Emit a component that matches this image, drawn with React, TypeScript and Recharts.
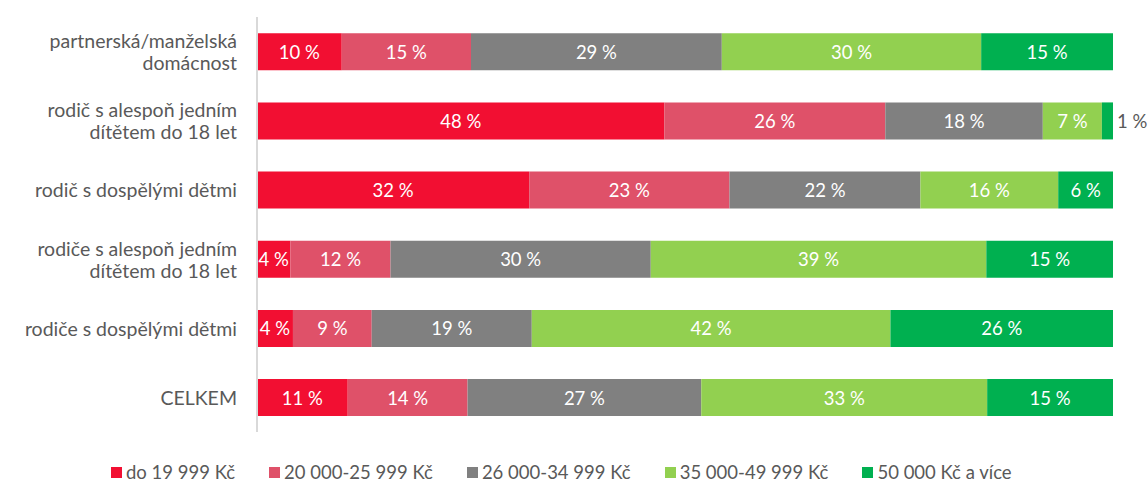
import React from 'react';
import { BarChart, Bar, XAxis, YAxis, Legend, LabelList } from 'recharts';

const categories = [
  'partnerská/manželská\ndomácnost',
  'rodič s alespoň jedním\ndítětem do 18 let',
  'rodič s dospělými dětmi',
  'rodiče s alespoň jedním\ndítětem do 18 let',
  'rodiče s dospělými dětmi',
  'CELKEM',
];

const seriesNames = ['do 19 999 Kč', '20 000-25 999 Kč', '26 000-34 999 Kč', '35 000-49 999 Kč', '50 000 Kč a více'];
const seriesColors = ['#F20F32', '#DF5169', '#808080', '#92D050', '#00B050'];

const do19 = [9.9, 47.6, 31.8, 3.9, 4.2, 10.6];
const from20to25 = [15.1, 25.8, 23.4, 11.7, 9.2, 14.0];
const from26to34 = [29.3, 18.4, 22.3, 30.4, 18.7, 27.3];
const from35to49 = [30.3, 6.9, 16.1, 39.2, 41.9, 33.4];
const over50 = [15.4, 1.3, 6.4, 14.8, 26.0, 14.7];

const seriesValues = [do19, from20to25, from26to34, from35to49, over50];
const keys = ['s0', 's1', 's2', 's3', 's4'];

const data = categories.map((name, i) => {
  const row: Record<string, string | number> = { name };
  keys.forEach((k, j) => (row[k] = seriesValues[j][i]));
  return row;
});

const FONT = 'Lato, "Open Sans", sans-serif';

const CategoryTick = (props: any) => {
  const { x, y, payload } = props;
  const lines = String(payload.value).split('\n');
  const lh = 22;
  const start = -((lines.length - 1) * lh) / 2;
  return (
    <text x={x - 12} y={y} textAnchor="end" fill="#595959" fontSize={19.5} fontFamily={FONT}>
      {lines.map((l, i) => (
        <tspan key={i} x={x - 12} y={y + start + i * lh} dominantBaseline="central">
          {l}
        </tspan>
      ))}
    </text>
  );
};

const SegmentLabel = (props: any) => {
  const { x, y, width, height, value } = props;
  const text = `${Math.round(value)} %`;
  if (width < 20) {
    return (
      <text x={x + width + 4} y={y + height / 2} dominantBaseline="central" fill="#595959" fontSize={18.5} fontFamily={FONT}>
        {text}
      </text>
    );
  }
  return (
    <text x={x + width / 2} y={y + height / 2} textAnchor="middle" dominantBaseline="central" fill="#fff" fontSize={18.5} fontFamily={FONT}>
      {text}
    </text>
  );
};

const renderLegend = () => (
  <div style={{ display: 'flex', alignItems: 'center', fontFamily: FONT, fontSize: 18.5, color: '#595959', whiteSpace: 'nowrap' }}>
    {seriesNames.map((n, i) => (
      <div key={n} style={{ display: 'flex', alignItems: 'center', marginRight: 34 }}>
        <span style={{ width: 11, height: 11, background: seriesColors[i], marginRight: 4, display: 'inline-block' }} />
        <span>{n}</span>
      </div>
    ))}
  </div>
);

export default function App() {
  return (
    <div style={{ position: 'absolute', left: 0, top: 0, width: 1148, height: 481, background: '#fff' }}>
      <BarChart
        width={1148}
        height={481}
        data={data}
        layout="vertical"
        margin={{ top: 17, right: 35, bottom: 49, left: 0 }}
        barCategoryGap="23.5%"
      >
        <XAxis type="number" domain={[0, 100]} hide />
        <YAxis
          type="category"
          dataKey="name"
          width={257}
          axisLine={{ stroke: '#d9d9d9', strokeWidth: 2 }}
          tickLine={false}
          tick={<CategoryTick />}
          interval={0}
        />
        <Legend
          layout="horizontal"
          verticalAlign="middle"
          align="center"
          content={renderLegend}
          wrapperStyle={{ position: 'absolute', left: 111, top: 461, width: 'auto' }}
        />
        {keys.map((k, i) => (
          <Bar key={k} dataKey={k} name={seriesNames[i]} stackId="a" fill={seriesColors[i]} isAnimationActive={false}>
            <LabelList dataKey={k} content={<SegmentLabel />} />
          </Bar>
        ))}
      </BarChart>
    </div>
  );
}
